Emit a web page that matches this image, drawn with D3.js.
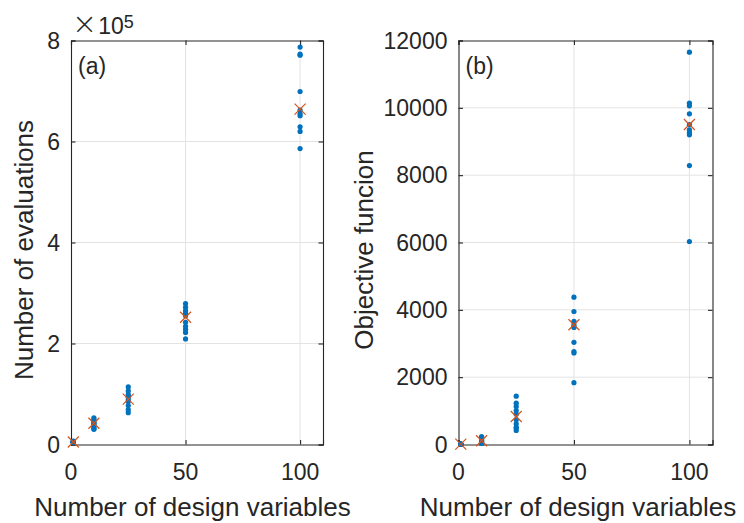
<!DOCTYPE html>
<html>
<head>
<meta charset="utf-8">
<script src="https://cdn.jsdelivr.net/npm/d3@7"></script>
<style>
  html, body { margin: 0; padding: 0; background: #fff; }
  svg { display: block; }
  text { font-family: "Liberation Sans", Arial, Helvetica, sans-serif; fill: #262626; }
</style>
</head>
<body>
<svg id="chart" width="744" height="523"></svg>
<script>
// Problem sizes (number of design variables)
const designVars = [1, 10, 25, 50, 100];

// Number of function evaluations for each independent run, per problem size
const evalRuns = [
  [4000, 5000, 5500, 6000, 4500, 5000, 6500, 5000, 4800, 5200],
  [53000, 50000, 47000, 44000, 42000, 40000, 37000, 34000, 31000, 30000],
  [114000, 106000, 99000, 93000, 88000, 85000, 77000, 69000, 63000, 96000],
  [279000, 272000, 265000, 260000, 255000, 242000, 234000, 228000, 222000, 209000],
  [787000, 773000, 771000, 699000, 662000, 651000, 629000, 620000, 586000, 655000]
];
// Mean number of evaluations per problem size
const evalMeans = [5000, 42000, 90000, 252000, 664000];

// Best objective function value for each run, per problem size
const objRuns = [
  [5, 8, 10, 12, 6, 9, 11, 7, 10, 8],
  [235, 200, 170, 140, 120, 100, 80, 60, 40, 30],
  [1435, 1227, 1129, 1010, 900, 734, 615, 514, 416, 480],
  [4375, 3950, 3655, 3560, 3477, 3035, 2760, 2720, 1835, 3500],
  [11652, 10137, 10059, 9822, 9346, 9266, 9198, 8285, 6030, 9500]
];
// Mean objective function value per problem size
const objMeans = [9, 110, 832, 3557, 9504];

// Axis ticks
const xTicks = [0, 50, 100];
const evalTicks = [0, 200000, 400000, 600000, 800000];
const objTicks = [0, 2000, 4000, 6000, 8000, 10000, 12000];

const xLabel = "Number of design variables";

const BLUE = "#0072BD";
const RED = "#D95319";
const AXIS = "#262626";
const GRID = "#e3e3e3";

const svg = d3.select("#chart");

function drawPanel(cfg) {
  const { left, right, top, bottom } = cfg.box;
  const x = d3.scaleLinear().domain([0, 110]).range([left, right]);
  const y = d3.scaleLinear().domain(cfg.yDomain).range([bottom, top]);
  const g = svg.append("g");

  // grid lines
  g.append("g").selectAll("line.gx").data(xTicks.filter(t => t > 0)).join("line")
    .attr("x1", d => x(d)).attr("x2", d => x(d))
    .attr("y1", top).attr("y2", bottom)
    .attr("stroke", GRID).attr("stroke-width", 1);
  g.append("g").selectAll("line.gy").data(cfg.yTicks.filter(t => t > cfg.yDomain[0] && t < cfg.yDomain[1])).join("line")
    .attr("x1", left).attr("x2", right)
    .attr("y1", d => y(d)).attr("y2", d => y(d))
    .attr("stroke", GRID).attr("stroke-width", 1);

  // axes with inward ticks on all four sides
  const tickLen = -4.5;
  const fmtY = cfg.yFormat;
  const axB = g.append("g").attr("transform", `translate(0,${bottom})`)
    .call(d3.axisBottom(x).tickValues(xTicks).tickSize(tickLen).tickPadding(0).tickFormat(() => ""));
  const axT = g.append("g").attr("transform", `translate(0,${top})`)
    .call(d3.axisTop(x).tickValues(xTicks).tickSize(tickLen).tickFormat(() => ""));
  const axL = g.append("g").attr("transform", `translate(${left},0)`)
    .call(d3.axisLeft(y).tickValues(cfg.yTicks).tickSize(tickLen).tickFormat(() => ""));
  const axR = g.append("g").attr("transform", `translate(${right},0)`)
    .call(d3.axisRight(y).tickValues(cfg.yTicks).tickSize(tickLen).tickFormat(() => ""));
  [axB, axT, axL, axR].forEach(a => {
    a.select(".domain").attr("stroke", AXIS).attr("stroke-width", 1.1);
    a.selectAll(".tick line").attr("stroke", AXIS).attr("stroke-width", 1.1);
  });

  // tick labels
  g.append("g").selectAll("text").data(xTicks).join("text")
    .attr("x", d => x(d)).attr("y", bottom + 35)
    .attr("text-anchor", "middle").attr("font-size", 23)
    .text(d => d);
  g.append("g").selectAll("text").data(cfg.yTicks).join("text")
    .attr("x", left - 11).attr("y", d => y(d) + 8)
    .attr("text-anchor", "end").attr("font-size", 23)
    .text(d => fmtY(d));

  // axis titles
  g.append("text")
    .attr("x", cfg.xLabelX).attr("y", 516)
    .attr("text-anchor", "middle").attr("font-size", 26)
    .text(xLabel);
  g.append("text")
    .attr("transform", `translate(${cfg.yLabelX},250) rotate(-90)`)
    .attr("text-anchor", "middle").attr("font-size", 26)
    .text(cfg.yLabel);

  // panel tag
  g.append("text")
    .attr("x", left + 7).attr("y", top + 33)
    .attr("font-size", 23)
    .text(cfg.tag);

  // individual runs
  const pts = [];
  cfg.runs.forEach((vals, i) => vals.forEach(v => pts.push({ n: designVars[i], v })));
  g.append("g").selectAll("circle").data(pts).join("circle")
    .attr("cx", d => x(d.n)).attr("cy", d => y(d.v))
    .attr("r", 2.6).attr("fill", BLUE);

  // means
  const s = 5.5;
  const means = cfg.means.map((v, i) => ({ n: designVars[i], v }));
  g.append("g").selectAll("path").data(means).join("path")
    .attr("d", d => {
      const cx = x(d.n), cy = y(d.v);
      return `M${cx - s},${cy - s}L${cx + s},${cy + s}M${cx - s},${cy + s}L${cx + s},${cy - s}`;
    })
    .attr("stroke", RED).attr("stroke-width", 1.2).attr("fill", "none");

  return g;
}

const gA = drawPanel({
  box: { left: 71, right: 323, top: 40.5, bottom: 444.5 },
  yDomain: [0, 800000],
  yTicks: evalTicks,
  yFormat: d => d / 100000,
  runs: evalRuns,
  means: evalMeans,
  yLabel: "Number of evaluations",
  yLabelX: 33,
  xLabelX: 192.5,
  tag: "(a)"
});

// exponent label for the scaled axis
const expLabel = gA.append("text").attr("x", 72).attr("y", 34).attr("font-size", 23);
expLabel.append("tspan").attr("font-size", 30).attr("font-family", "DejaVu Sans, sans-serif").attr("font-weight", 200).text("\u00d7");
expLabel.append("tspan").attr("dx", 1).text("10");
expLabel.append("tspan").attr("dy", -6).attr("font-size", 18).text("5");

drawPanel({
  box: { left: 458.5, right: 712.5, top: 40.5, bottom: 444.5 },
  yDomain: [0, 12000],
  yTicks: objTicks,
  yFormat: d => d,
  runs: objRuns,
  means: objMeans,
  yLabel: "Objective funcion",
  yLabelX: 373,
  xLabelX: 578,
  tag: "(b)"
});
</script>
</body>
</html>
